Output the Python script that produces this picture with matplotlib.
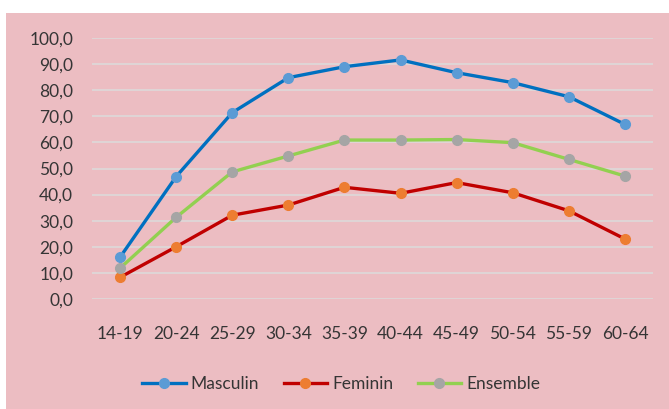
import matplotlib.pyplot as plt
from matplotlib.patches import Rectangle

# Taux par tranche d'age
ages = ['14-19', '20-24', '25-29', '30-34', '35-39', '40-44', '45-49', '50-54', '55-59', '60-64']
masculin = [16.0, 46.9, 71.4, 84.8, 89.0, 91.6, 86.7, 82.9, 77.5, 66.9]
feminin = [8.3, 20.0, 32.1, 36.0, 42.8, 40.5, 44.6, 40.7, 33.8, 23.0]
ensemble = [11.8, 31.3, 48.7, 54.8, 60.9, 60.9, 61.1, 59.9, 53.5, 47.1]
yticks = [0, 10, 20, 30, 40, 50, 60, 70, 80, 90, 100]

W, H = 669, 409
fig = plt.figure(figsize=(W / 100, H / 100), dpi=100)
fig.patch.set_facecolor('white')
# fond rose du graphique
fig.patches.append(Rectangle((6 / W, 0), 1 - 6 / W, (H - 13) / H,
                             transform=fig.transFigure, facecolor='#ECBDC2',
                             edgecolor='none', zorder=-10))

ax = fig.add_axes([92 / W, (H - 299) / H, (653 - 92) / W, (299 - 38) / H])
ax.set_facecolor('none')

txt = '#353535'
font = ['Lato', 'DejaVu Sans']
fs = 12.5
x = range(len(ages))

ax.plot(x, masculin, color='#0070C0', lw=2.4, marker='o', ms=7,
        mfc='#5B9BD5', mec='#5B9BD5', label='Masculin', zorder=3)
ax.plot(x, feminin, color='#C00000', lw=2.4, marker='o', ms=7,
        mfc='#ED7D31', mec='#ED7D31', label='Feminin', zorder=3)
ax.plot(x, ensemble, color='#92D050', lw=2.4, marker='o', ms=7,
        mfc='#A5A5A5', mec='#A5A5A5', label='Ensemble', zorder=3)

ax.set_xlim(-0.5, len(ages) - 0.5)
ax.set_ylim(0, 100)
ax.set_yticks(yticks)
ax.set_yticklabels([f'{v:.1f}'.replace('.', ',') for v in yticks],
                   family=font, fontsize=fs, color=txt)
ax.set_xticks(list(x))
ax.set_xticklabels(ages, family=font, fontsize=fs, color=txt)
ax.tick_params(length=0)
ax.tick_params(axis='y', pad=13.5)
ax.tick_params(axis='x', pad=19.5)
ax.grid(axis='y', color='#DCDCDC', lw=1.1, zorder=1)
ax.set_axisbelow(True)
for s in ax.spines.values():
    s.set_visible(False)

leg = fig.legend(loc='center', bbox_to_anchor=(0.51, (H - 384) / H), ncol=3,
                 frameon=False, prop={'family': font, 'size': fs},
                 handlelength=2.5, columnspacing=1.4, handletextpad=0.3)
for t in leg.get_texts():
    t.set_color(txt)

fig.savefig('out.png', dpi=100)
